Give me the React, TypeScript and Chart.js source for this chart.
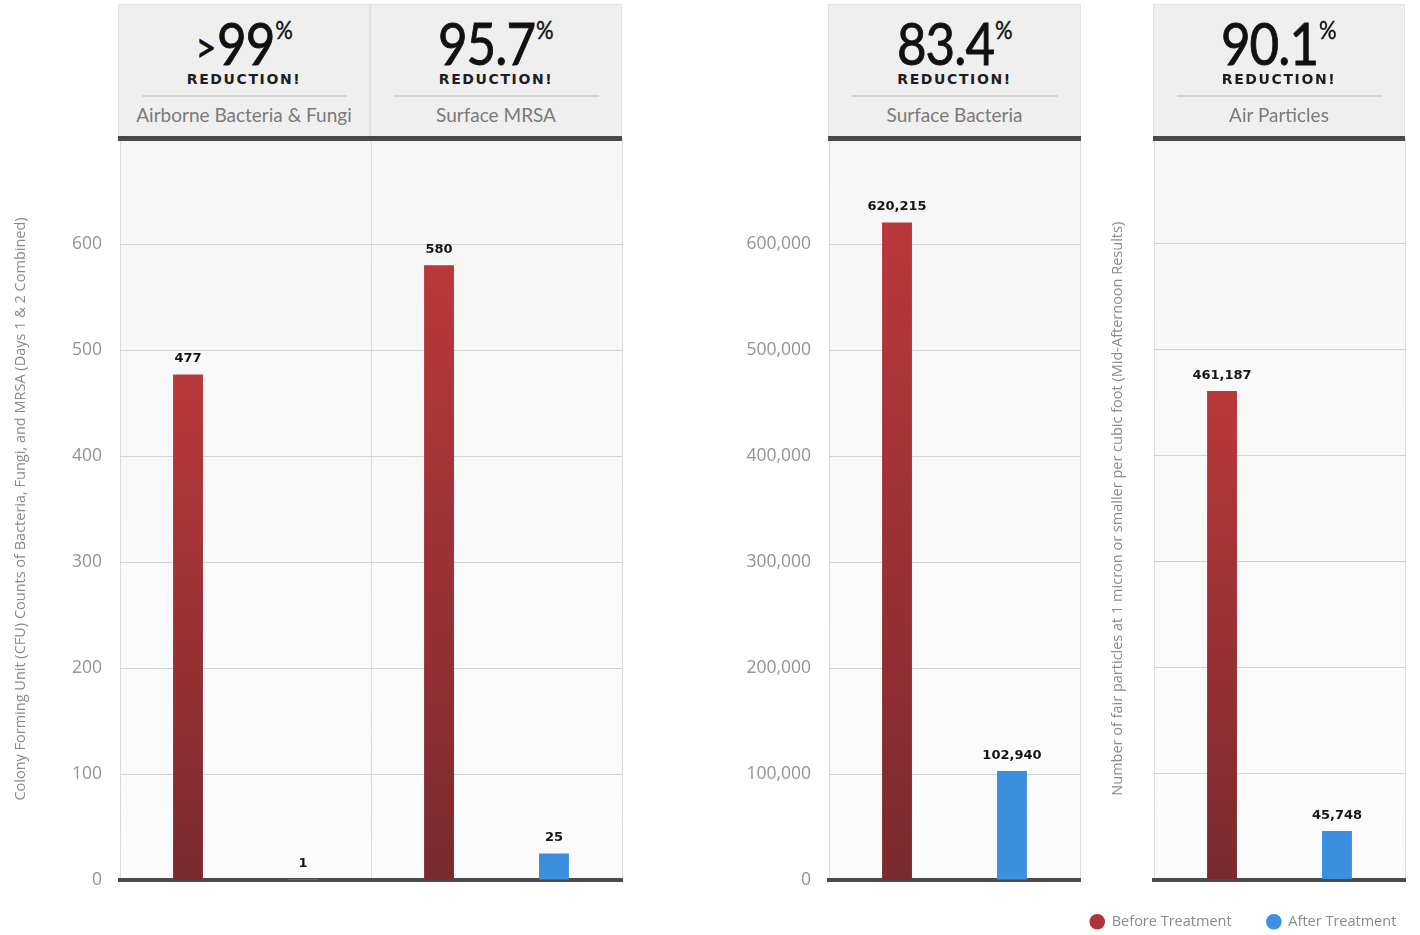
import React, { useEffect, useRef } from "react";
import { Chart, registerables } from "chart.js";

Chart.register(...registerables);

// ---------- data ----------
const seriesNames = ["Before Treatment", "After Treatment"];
const leftCategories = ["Airborne Bacteria & Fungi", "Surface MRSA"];
const leftBefore = [477, 580];
const leftAfter = [1, 25];
const leftMax = 700;
const leftStep = 100;
const leftAxisTitle =
  "Colony Forming Unit (CFU) Counts of Bacteria, Fungi, and MRSA (Days 1 & 2 Combined)";

const surfaceCategories = ["Surface Bacteria"];
const surfaceBefore = [620215];
const surfaceAfter = [102940];
const particleCategories = ["Air Particles"];
const particleBefore = [461187];
const particleAfter = [45748];
const rightMax = 700000;
const rightStep = 100000;
const rightAxisTitle =
  "Number of fair particles at 1 micron or smaller per cubic foot (Mid-Afternoon Results)";

const reductionPrefix = [">", "", "", ""];
const reductionValues = ["99", "95.7", "83.4", "90.1"];
const headerNames = ["Airborne Bacteria & Fungi", "Surface MRSA", "Surface Bacteria", "Air Particles"];

// ---------- styles ----------
const RED_TOP = "#ba383b";
const RED_BOTTOM = "#7a2a2e";
const BLUE = "#3a8fe0";
const TICK_COLOR = "#939393";

const redFill = (ctx: any) => {
  const chart = ctx.chart;
  const y = chart.scales && chart.scales.y;
  if (ctx.type !== "data" || !y || !chart.chartArea) return RED_TOP;
  const top = y.getPixelForValue(ctx.raw);
  const bottom = y.getPixelForValue(0);
  if (!isFinite(top) || !isFinite(bottom) || Math.abs(bottom - top) < 1) return RED_TOP;
  const g = chart.ctx.createLinearGradient(0, top, 0, bottom);
  g.addColorStop(0, RED_TOP);
  g.addColorStop(1, RED_BOTTOM);
  return g;
};

const plotBackground = {
  id: "plotBackground",
  beforeDraw(chart: any) {
    const { ctx, chartArea } = chart;
    if (!chartArea) return;
    ctx.save();
    const g = ctx.createLinearGradient(0, chartArea.top, 0, chartArea.bottom);
    g.addColorStop(0, "#f6f6f6");
    g.addColorStop(1, "#fcfcfc");
    ctx.fillStyle = g;
    ctx.fillRect(chartArea.left, chartArea.top, chartArea.right - chartArea.left, chartArea.bottom - chartArea.top);
    ctx.restore();
  },
};

const valueLabels = {
  id: "valueLabels",
  afterDatasetsDraw(chart: any) {
    const ctx = chart.ctx;
    ctx.save();
    ctx.font = 'bold 13px "DejaVu Sans"';
    ctx.fillStyle = "#151515";
    ctx.textAlign = "center";
    ctx.textBaseline = "bottom";
    chart.data.datasets.forEach((ds: any, i: number) => {
      const meta = chart.getDatasetMeta(i);
      meta.data.forEach((el: any, j: number) => {
        const v = ds.data[j];
        ctx.fillText(Number(v).toLocaleString("en-US"), el.x, el.y - 9);
      });
    });
    ctx.restore();
  },
};

type PanelProps = {
  labels: string[];
  before: number[];
  after: number[];
  max: number;
  step: number;
  showTicks: boolean;
  title?: string;
  titlePad: number;
  legend: boolean;
  yWidth: number;
  rightSpace: number;
  padLeft: number;
  padRight: number;
  padBottom: number;
  left: number;
  width: number;
  height: number;
};

const CANVAS_TOP = 100;

function Panel(p: PanelProps) {
  const ref = useRef<HTMLCanvasElement | null>(null);
  useEffect(() => {
    if (!ref.current) return;
    const scales: any = {
      x: {
        offset: true,
        z: 1,
        grid: { display: true, offset: true, color: "#dcdcdc", lineWidth: 1, drawTicks: false },
        ticks: { display: false },
        border: { display: true, color: "#4a4a4a", width: 4 },
        afterFit: (s: any) => {
          s.height = 0;
        },
      },
      y: {
        min: 0,
        max: p.max,
        ticks: {
          stepSize: p.step,
          display: p.showTicks,
          color: TICK_COLOR,
          padding: 18,
          font: { family: "Open Sans", size: 17.5 },
          callback: (v: any) => (Number(v) >= p.max ? "" : Number(v).toLocaleString("en-US")),
        },
        grid: {
          color: (c: any) =>
            c.tick && (c.tick.value === 0 || c.tick.value >= p.max) ? "rgba(0,0,0,0)" : "#d2d2d2",
          drawTicks: false,
          lineWidth: 1,
        },
        border: { display: false },
        title: {
          display: !!p.title,
          text: p.title || "",
          color: "#8a8a8a",
          font: { family: "Open Sans", size: 14.5 },
          padding: { top: p.titlePad, bottom: 0 },
        },
        afterFit: (s: any) => {
          s.width = p.yWidth;
        },
      },
    };
    if (p.rightSpace > 0) {
      scales.yRight = {
        position: "right",
        display: true,
        grid: { display: false },
        ticks: { display: false },
        border: { display: false },
        afterFit: (s: any) => {
          s.width = p.rightSpace;
        },
      };
    }
    const chart = new Chart(ref.current, {
      type: "bar",
      data: {
        labels: p.labels,
        datasets: [
          {
            label: seriesNames[0],
            data: p.before,
            backgroundColor: redFill,
            borderWidth: 0,
            categoryPercentage: 0.916,
            barPercentage: 0.26,
          },
          {
            label: seriesNames[1],
            data: p.after,
            backgroundColor: BLUE,
            borderWidth: 0,
            categoryPercentage: 0.916,
            barPercentage: 0.26,
          },
        ],
      },
      options: {
        responsive: false,
        animation: false,
        layout: { padding: { top: 38, right: p.padRight, bottom: p.padBottom, left: p.padLeft } },
        plugins: {
          tooltip: { enabled: false },
          legend: {
            display: p.legend,
            position: "bottom",
            align: "start",
            labels: {
              usePointStyle: true,
              pointStyle: "circle",
              boxWidth: 14.5,
              boxHeight: 11,
              padding: 35,
              color: "#8a8a8a",
              font: { family: "Open Sans", size: 14.5 },
              generateLabels: () =>
                seriesNames.map((n, i) => ({
                  text: n,
                  fillStyle: i === 0 ? "#b2343a" : BLUE,
                  strokeStyle: i === 0 ? "#b2343a" : BLUE,
                  lineWidth: 0,
                  pointStyle: "circle",
                  hidden: false,
                  datasetIndex: i,
                  fontColor: "#8a8a8a",
                })),
            },
          },
        },
        scales,
      },
      plugins: [plotBackground, valueLabels],
    } as any);
    return () => chart.destroy();
  }, []);
  return (
    <canvas
      ref={ref}
      width={p.width}
      height={p.height}
      style={{ position: "absolute", left: p.left, top: CANVAS_TOP, width: p.width, height: p.height }}
    />
  );
}

function Header({ idx, left, width }: { idx: number; left: number; width: number }) {
  return (
    <div
      style={{
        position: "absolute",
        left,
        top: 4,
        width,
        height: 132,
        background: "#efefef",
        borderTop: "1px solid #e2e2e2",
        borderLeft: "1px solid #e2e2e2",
        borderRight: "1px solid #e2e2e2",
        boxSizing: "border-box",
      }}
    >
      <div
        style={{
          position: "absolute",
          left: 0,
          right: 0,
          top: 8,
          height: 60,
          lineHeight: "60px",
          textAlign: "center",
          fontFamily: "Lato",
          color: "#111",
          whiteSpace: "nowrap",
          WebkitTextStroke: "0.9px #111",
        }}
      >
        <span style={{ display: "inline-block", transform: "scaleX(0.88)", transformOrigin: "center" }}>
          {reductionPrefix[idx] ? (
            <span style={{ fontSize: 40, position: "relative", top: -3, marginRight: 1 }}>{reductionPrefix[idx]}</span>
          ) : null}
          <span style={{ fontSize: 58, letterSpacing: -1 }}>{reductionValues[idx]}</span>
          <span
            style={{
              fontSize: 25,
              display: "inline-block",
              verticalAlign: "top",
              lineHeight: "26px",
              marginTop: 3,
              marginLeft: 1,
              WebkitTextStroke: "0.4px #111",
            }}
          >
            %
          </span>
        </span>
      </div>
      <div
        style={{
          position: "absolute",
          left: 0,
          right: 0,
          top: 66,
          height: 16,
          lineHeight: "16px",
          textAlign: "center",
          fontFamily: "DejaVu Sans",
          fontWeight: "bold",
          fontSize: 14,
          letterSpacing: 1.6,
          color: "#1e1e1e",
        }}
      >
        REDUCTION!
      </div>
      <div
        style={{
          position: "absolute",
          left: 23,
          right: 22,
          top: 90,
          height: 2,
          background: "#d3d3d3",
        }}
      />
      <div
        style={{
          position: "absolute",
          left: 0,
          right: 0,
          top: 99,
          height: 22,
          lineHeight: "22px",
          textAlign: "center",
          fontFamily: "Lato",
          fontSize: 19,
          color: "#7a7a7a",
          whiteSpace: "nowrap",
        }}
      >
        {headerNames[idx]}
      </div>
    </div>
  );
}

export default function App() {
  return (
    <div style={{ position: "absolute", left: 0, top: 0, width: 1420, height: 935, background: "#fff", overflow: "hidden" }}>
      <Panel
        labels={leftCategories}
        before={leftBefore}
        after={leftAfter}
        max={leftMax}
        step={leftStep}
        showTicks={true}
        title={leftAxisTitle}
        titlePad={12}
        legend={false}
        yWidth={120}
        rightSpace={0}
        padLeft={0}
        padRight={8}
        padBottom={55}
        left={0}
        width={630}
        height={835}
      />
      <Panel
        labels={surfaceCategories}
        before={surfaceBefore}
        after={surfaceAfter}
        max={rightMax}
        step={rightStep}
        showTicks={true}
        titlePad={0}
        legend={false}
        yWidth={129}
        rightSpace={0}
        padLeft={0}
        padRight={10}
        padBottom={55}
        left={700}
        width={390}
        height={835}
      />
      <Panel
        labels={particleCategories}
        before={particleBefore}
        after={particleAfter}
        max={rightMax}
        step={rightStep}
        showTicks={false}
        title={rightAxisTitle}
        titlePad={54}
        legend={true}
        yWidth={99}
        rightSpace={30}
        padLeft={35}
        padRight={0}
        padBottom={11}
        left={1020}
        width={415}
        height={850}
      />
      <Header idx={0} left={118} width={252} />
      <Header idx={1} left={370} width={252} />
      <Header idx={2} left={828} width={253} />
      <Header idx={3} left={1153} width={252} />
      <div style={{ position: "absolute", left: 118, top: 136, width: 504, height: 5, background: "#4a4a4a" }} />
      <div style={{ position: "absolute", left: 828, top: 136, width: 253, height: 5, background: "#4a4a4a" }} />
      <div style={{ position: "absolute", left: 1153, top: 136, width: 252, height: 5, background: "#4a4a4a" }} />
    </div>
  );
}
